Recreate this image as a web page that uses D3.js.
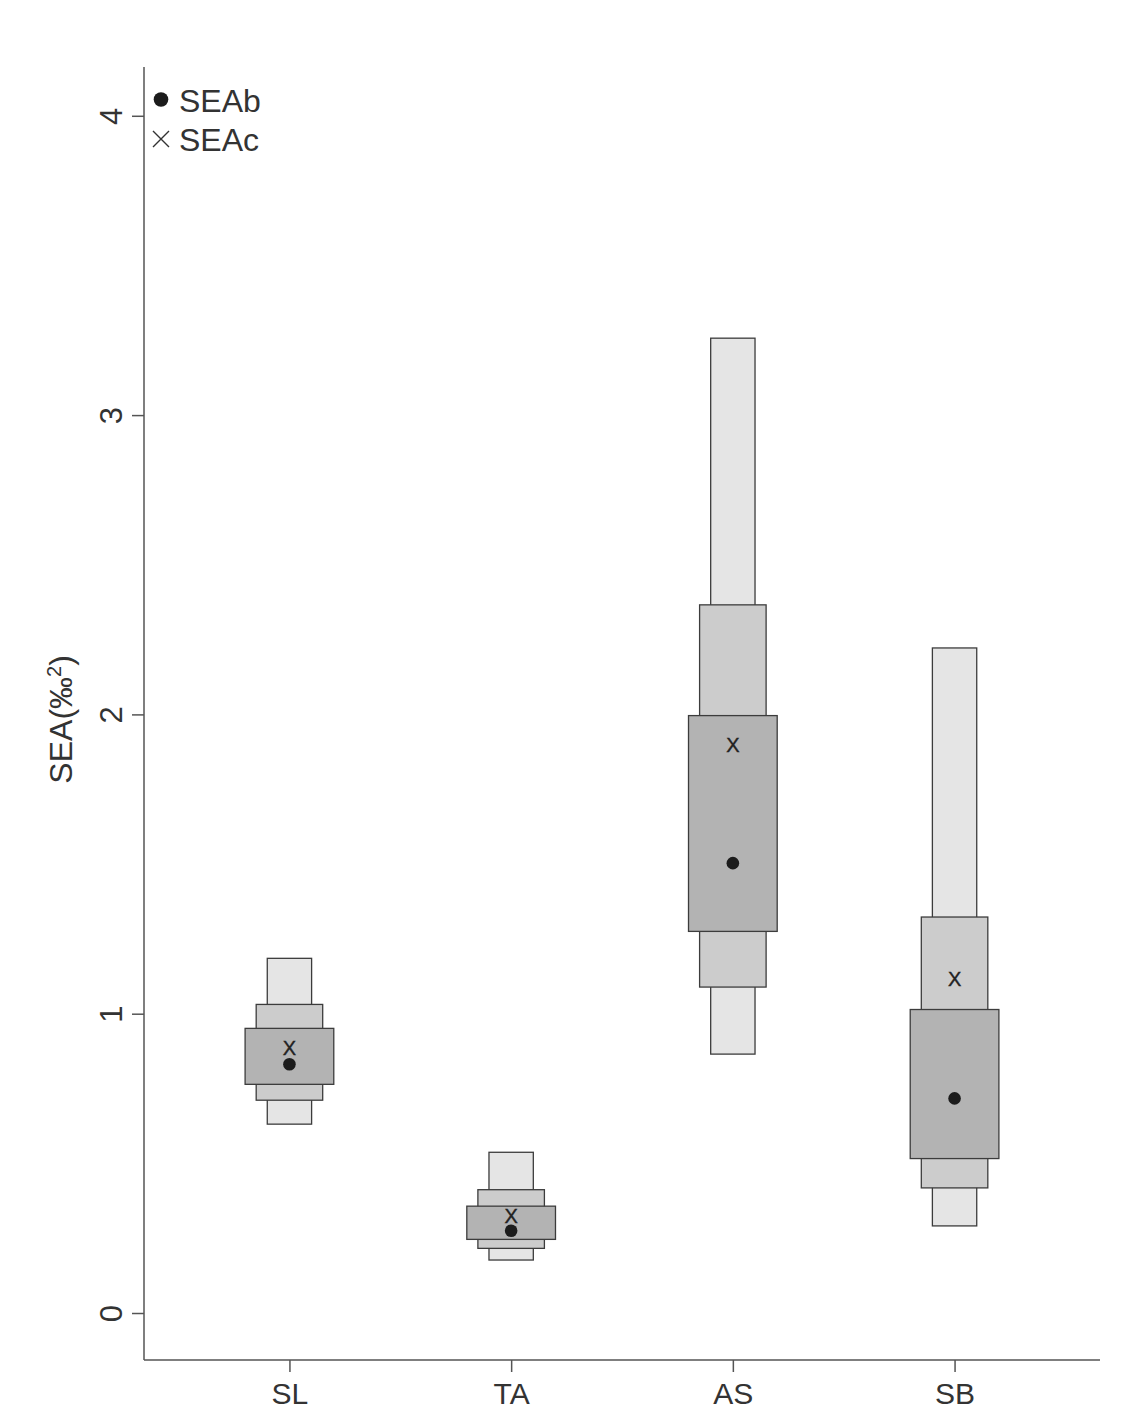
<!DOCTYPE html>
<html>
<head>
<meta charset="utf-8">
<script src="https://cdn.jsdelivr.net/npm/d3@7"></script>
<style>
  html, body { margin: 0; padding: 0; background: #ffffff; }
  svg { display: block; font-family: "Liberation Sans", Arial, sans-serif; }
</style>
</head>
<body>
<svg id="chart" width="1131" height="1412"></svg>
<script>
// Standard ellipse area credible intervals per group (50%, 75%, 95%)
const groups = ["SL", "TA", "AS", "SB"];
const ci95Low  = [0.631, 0.177, 0.865, 0.291];
const ci95High = [1.185, 0.537, 3.257, 2.222];
const ci75Low  = [0.711, 0.216, 1.089, 0.418];
const ci75High = [1.031, 0.412, 2.366, 1.323];
const ci50Low  = [0.764, 0.246, 1.275, 0.516];
const ci50High = [0.951, 0.357, 1.996, 1.014];
const seaB = [0.831, 0.275, 1.503, 0.717];   // Bayesian mode
const seaC = [0.885, 0.325, 1.900, 1.116];   // small-sample corrected
const yTicks = [0, 1, 2, 3, 4];

const svg = d3.select("#chart");
const plotLeft = 144, plotRight = 1100, plotTop = 67, plotBottom = 1360;

const x = d3.scalePoint().domain(groups).range([plotLeft, plotRight]).padding(0.656);
const y = d3.scaleLinear().domain([-0.157, 4.163]).range([plotBottom, plotTop]);
const step = x.step();

const intervals = [
  { lo: ci95Low, hi: ci95High, w: 0.2, fill: "#e5e5e5" },
  { lo: ci75Low, hi: ci75High, w: 0.3, fill: "#cccccc" },
  { lo: ci50Low, hi: ci50High, w: 0.4, fill: "#b3b3b3" }
];

const plot = svg.append("g");
intervals.forEach(iv => {
  plot.append("g").selectAll("rect")
    .data(groups)
    .join("rect")
    .attr("x", (d) => x(d) - iv.w * step / 2)
    .attr("width", iv.w * step)
    .attr("y", (d, i) => y(iv.hi[i]))
    .attr("height", (d, i) => y(iv.lo[i]) - y(iv.hi[i]))
    .attr("fill", iv.fill)
    .attr("stroke", "#3c3c3c")
    .attr("stroke-width", 1.3);
});

// SEAb points
plot.append("g").selectAll("circle")
  .data(groups)
  .join("circle")
  .attr("cx", d => x(d))
  .attr("cy", (d, i) => y(seaB[i]))
  .attr("r", 6.3)
  .attr("fill", "#1c1c1c");

// SEAc markers
plot.append("g").selectAll("text")
  .data(groups)
  .join("text")
  .attr("x", d => x(d))
  .attr("y", (d, i) => y(seaC[i]))
  .attr("dy", "0.36em")
  .attr("text-anchor", "middle")
  .attr("font-size", 20)
  .attr("fill", "#222")
  .attr("stroke", "#222")
  .attr("stroke-width", 0.4)
  .text("X");

// Axes
const axisColor = "#555";
const yAxis = svg.append("g")
  .attr("transform", `translate(${plotLeft},0)`)
  .call(d3.axisLeft(y).tickValues(yTicks).tickSize(12).tickSizeOuter(0).tickFormat(d3.format("d")));
yAxis.select(".domain").attr("d", `M0,${plotTop}V${plotBottom}`);
yAxis.selectAll(".domain, .tick line").attr("stroke", axisColor).attr("stroke-width", 1.5);
yAxis.selectAll(".tick text")
  .attr("x", null).attr("dy", null)
  .attr("transform", "translate(-22,0) rotate(-90)")
  .attr("text-anchor", "middle")
  .attr("font-size", 31)
  .attr("font-family", "'Liberation Sans', Arial, sans-serif")
  .attr("fill", "#333");

const xAxis = svg.append("g")
  .attr("transform", `translate(0,${plotBottom})`)
  .call(d3.axisBottom(x).tickSize(12).tickSizeOuter(0));
xAxis.select(".domain").attr("d", `M${plotLeft},0H${plotRight}`);
xAxis.selectAll(".domain, .tick line").attr("stroke", axisColor).attr("stroke-width", 1.5);
xAxis.selectAll(".tick text")
  .attr("y", 44).attr("dy", null)
  .attr("font-size", 30)
  .attr("font-family", "'Liberation Sans', Arial, sans-serif")
  .attr("fill", "#333");

// Y axis title
const yTitle = svg.append("text")
  .attr("transform", `translate(72,${(y(2) + 5)}) rotate(-90)`)
  .attr("text-anchor", "middle")
  .attr("font-size", 32)
  .attr("fill", "#333");
yTitle.append("tspan").text("SEA(‰");
yTitle.append("tspan").attr("font-size", 20).attr("baseline-shift", "super").text("2");
yTitle.append("tspan").text(")");

// Legend
const legend = svg.append("g");
legend.append("circle").attr("cx", 161).attr("cy", 99.5).attr("r", 7.3).attr("fill", "#1c1c1c");
legend.append("text").attr("x", 179).attr("y", 112).attr("font-size", 32).attr("fill", "#333").text("SEAb");
legend.append("path")
  .attr("d", "M153,131L169,147M169,131L153,147")
  .attr("stroke", "#333").attr("stroke-width", 1.4).attr("fill", "none");
legend.append("text").attr("x", 179).attr("y", 151).attr("font-size", 32).attr("fill", "#333").text("SEAc");
</script>
</body>
</html>
